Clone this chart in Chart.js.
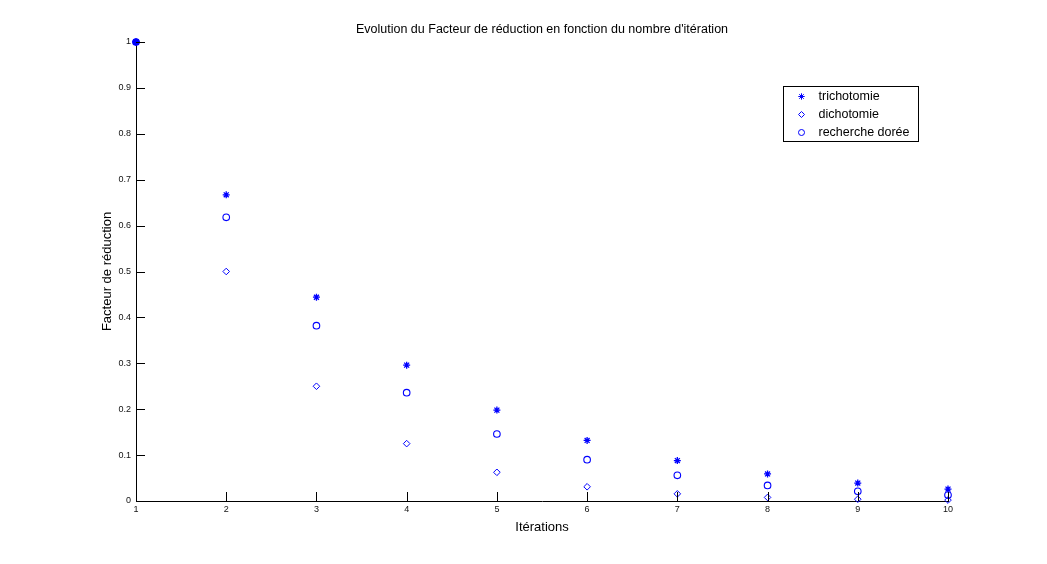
<!DOCTYPE html>
<html>
<head>
<meta charset="utf-8">
<script src="https://cdn.jsdelivr.net/npm/chart.js@4/dist/chart.umd.min.js"></script>
<style>
html,body{margin:0;padding:0;background:#fff;}
#wrap{width:1047px;height:564px;}
</style>
</head>
<body>
<div id="wrap"><canvas id="c" width="1047" height="564"></canvas></div>
<script>
const iterations = [1, 2, 3, 4, 5, 6, 7, 8, 9, 10];
const trichotomie = [1, 0.667, 0.444, 0.296, 0.198, 0.132, 0.088, 0.059, 0.039, 0.026];
const dichotomie = [1, 0.5, 0.25, 0.125, 0.0625, 0.031, 0.0156, 0.0078, 0.0039, 0.002];
const rechercheDoree = [1, 0.618, 0.382, 0.236, 0.146, 0.090, 0.056, 0.034, 0.021, 0.013];
const xTicks = [1, 2, 3, 4, 5, 6, 7, 8, 9, 10];
const yTicks = [0, 0.1, 0.2, 0.3, 0.4, 0.5, 0.6, 0.7, 0.8, 0.9, 1];

const BLUE = '#0000ff';
const FONT = "'Liberation Sans', Arial, Helvetica, sans-serif";

function pts(vals){ return iterations.map((x,i)=>({x:x, y:vals[i]})); }

const inwardTicks = {
  id: 'inwardTicks',
  afterDraw(chart){
    const ctx = chart.ctx, a = chart.chartArea;
    const xs = chart.scales.x, ys = chart.scales.y;
    ctx.save();
    ctx.strokeStyle = '#000';
    ctx.lineWidth = 1;
    ctx.beginPath();
    xTicks.forEach(v=>{ if(v===xTicks[0]) return; const px = Math.round(xs.getPixelForValue(v))+0.5; ctx.moveTo(px, a.bottom); ctx.lineTo(px, a.bottom-9); });
    yTicks.forEach(v=>{ if(v===yTicks[0]) return; const py = Math.round(ys.getPixelForValue(v))+0.5; ctx.moveTo(a.left, py); ctx.lineTo(a.left+9, py); });
    ctx.stroke();
    ctx.restore();
  }
};

const boxLegend = {
  id: 'boxLegend',
  afterDraw(chart){
    const ctx = chart.ctx, a = chart.chartArea;
    const items = chart.data.datasets;
    const w = 135, rowH = 18;
    const h = 55;
    const x0 = a.right - 30 - w + 0.5, y0 = a.top + 44 + 0.5;
    ctx.save();
    ctx.fillStyle = '#fff';
    ctx.fillRect(x0, y0, w, h);
    ctx.strokeStyle = '#000';
    ctx.lineWidth = 1;
    ctx.strokeRect(x0, y0, w, h);
    ctx.font = '12.5px ' + FONT;
    ctx.textBaseline = 'middle';
    items.forEach((d,i)=>{
      const cy = y0 + 10 + i*rowH;
      ctx.strokeStyle = BLUE; ctx.fillStyle = 'rgba(0,0,0,0)'; ctx.lineWidth = 1;
      Chart.helpers.drawPoint(ctx, {pointStyle: d.pointStyle, radius: d.legendRadius, rotation: 0, borderWidth: 1}, x0 + 18, cy);
      ctx.fillStyle = '#000';
      ctx.fillText(d.label, x0 + 35, cy);
    });
    ctx.restore();
  }
};

new Chart(document.getElementById('c'), {
  type: 'scatter',
  data: {
    datasets: [
      { label: 'trichotomie', data: pts(trichotomie), pointStyle: 'star', pointRadius: 3.5, legendRadius: 3.2,
        borderColor: BLUE, backgroundColor: BLUE, pointBorderWidth: 1.3, clip: false },
      { label: 'dichotomie', data: pts(dichotomie), pointStyle: 'rectRot', pointRadius: 3.3, legendRadius: 3,
        borderColor: BLUE, backgroundColor: 'rgba(0,0,0,0)', pointBorderWidth: 1, clip: false },
      { label: 'recherche dorée', data: pts(rechercheDoree), pointStyle: 'circle', pointRadius: 3.3, legendRadius: 3,
        borderColor: BLUE, pointBackgroundColor: iterations.map(x => x === 1 ? BLUE : 'rgba(0,0,0,0)'),
        backgroundColor: 'rgba(0,0,0,0)', pointBorderWidth: 1.1, clip: false }
    ]
  },
  options: {
    responsive: false,
    animation: false,
    layout: { padding: { left: 100, right: 99, top: 0, bottom: 27 } },
    plugins: {
      legend: { display: false },
      tooltip: { enabled: false },
      title: {
        display: true,
        fullSize: false,
        text: "Evolution du Facteur de réduction en fonction du nombre d'itération",
        color: '#000',
        font: { family: FONT, size: 12.5, weight: 'normal' },
        padding: { top: 22, bottom: 5 }
      }
    },
    scales: {
      x: {
        type: 'linear', min: 1, max: 10,
        afterBuildTicks(s){ s.ticks = xTicks.map(v=>({value:v})); },
        afterFit(s){ s.height = 36; },
        border: { display: true, color: '#000', width: 1 },
        grid: { display: true, drawOnChartArea: false, drawTicks: false, color: 'rgba(0,0,0,0)' },
        ticks: { color: '#111', padding: 3, font: { family: FONT, size: 9 }, maxRotation: 0, autoSkip: false,
                 callback: v => String(v) },
        title: { display: true, text: 'Itérations', color: '#000', font: { family: FONT, size: 13 }, padding: { top: 2, bottom: 2 } }
      },
      y: {
        type: 'linear', min: 0, max: 1,
        afterBuildTicks(s){ s.ticks = yTicks.map(v=>({value:v})); },
        afterFit(s){ s.width = 36; },
        border: { display: true, color: '#000', width: 1 },
        grid: { display: true, drawOnChartArea: false, drawTicks: false, color: 'rgba(0,0,0,0)' },
        ticks: { color: '#111', padding: 5, font: { family: FONT, size: 9 }, autoSkip: false,
                 callback: v => String(Math.round(v*10)/10) },
        title: { display: true, text: 'Facteur de réduction', color: '#000', font: { family: FONT, size: 13 }, padding: { top: 0, bottom: 2 } }
      }
    }
  },
  plugins: [inwardTicks, boxLegend]
});
</script>
</body>
</html>
